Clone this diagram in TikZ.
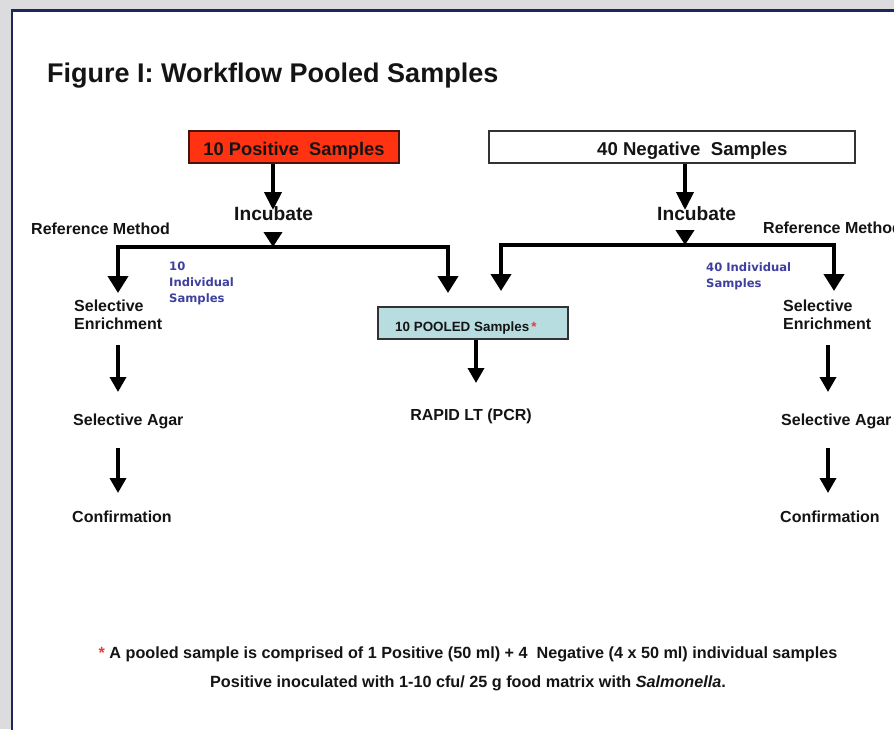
\documentclass[tikz,border=0pt]{standalone}
\usepackage{fontspec}
\setmainfont{Liberation Sans}
\newfontfamily\dejavu{DejaVu Sans}
\usetikzlibrary{arrows.meta}
\definecolor{bggray}{RGB}{220,220,222}
\definecolor{panelnavy}{RGB}{30,38,92}
\definecolor{boxred}{RGB}{255,51,17}
\definecolor{redborder}{RGB}{70,20,10}
\definecolor{boxcyan}{RGB}{184,221,225}
\definecolor{cyanborder}{RGB}{50,50,50}
\definecolor{lblblue}{RGB}{63,63,159}
\definecolor{astred}{RGB}{224,64,58}
\definecolor{txtdark}{RGB}{20,20,20}
\newcommand\setfs[1]{\fontsize{#1}{#1}\selectfont}
\begin{document}
\begin{tikzpicture}[x=1pt,y=-1pt,
  lbl/.style={inner sep=0pt, text=txtdark, font=\bfseries\setfs{16}},
  blue/.style={inner sep=0pt, text=lblblue, align=left, font=\dejavu\bfseries\fontsize{11.6}{16}\selectfont},
  two/.style={inner sep=0pt, text=txtdark, align=left, font=\bfseries\fontsize{16}{18}\selectfont},
  boxshape/.style={inner sep=0pt, line width=1.5pt},
  toparr/.style={line width=4pt, -{Triangle[width=17pt,length=18pt]}},
  headonly/.style={line width=4pt, -{Triangle[width=18pt,length=15pt]}},
  branch/.style={line width=4pt, line join=miter,
    {Triangle[width=20pt,length=17pt]}-{Triangle[width=20pt,length=17pt]}},
  colarr/.style={line width=3.5pt, -{Triangle[width=16pt,length=15pt]}}]
\useasboundingbox (0,0) rectangle (894,729);
\clip (0,0) rectangle (894,729);
\fill[bggray] (0,0) rectangle (894,729);
\fill[white] (12,10.5) rectangle (900,740);
\draw[panelnavy, line width=2.5pt] (12,740) -- (12,10.5) -- (900,10.5);

% title
\node[inner sep=0pt, anchor=base west, font=\bfseries\setfs{27}, text=txtdark] (title) at (47,82) {Figure I: Workflow Pooled Samples};

% top boxes
\node[boxshape, draw=redborder, fill=boxred, minimum width=210pt, minimum height=32pt] (pos) at (294,147) {};
\node[lbl, anchor=base, font=\bfseries\setfs{18.3}] (post) at (294,155) {10 Positive\ \ Samples};
\node[boxshape, draw=black!80, fill=white, minimum width=366pt, minimum height=32pt] (neg) at (672,147) {};
\node[lbl, anchor=base west, font=\bfseries\setfs{18.6}] (negt) at (597,155) {40 Negative\ \ Samples};

% incubate
\node[lbl, anchor=base west, font=\bfseries\setfs{19.2}] (incL) at (234,220) {Incubate};
\node[lbl, anchor=base west, font=\bfseries\setfs{19.2}] (incR) at (657,220) {Incubate};

\node[lbl, anchor=base west] (refL) at (31,234) {Reference Method};
\node[lbl, anchor=base west] (refR) at (763,233) {Reference Method};

% junctions and tips
\coordinate (jl) at (273,247);
\coordinate (jr) at (685,245);
\coordinate (incLtip) at (273,210);
\coordinate (incRtip) at (685,210);
\coordinate (tL1) at (118,293);
\coordinate (tL2) at (448,293);
\coordinate (tR1) at (501,291);
\coordinate (tR2) at (834,291);

\draw[toparr] (pos.south -| jl) -- (incLtip);
\draw[toparr] (neg.south -| jr) -- (incRtip);
\draw[headonly, shorten <=12pt] (incL.south -| jl) -- (jl);
\draw[headonly, shorten <=12pt] (incR.south -| jr) -- (jr);
\draw[branch] (tL1) |- (jl) -| (tL2);
\draw[branch] (tR1) |- (jr) -| (tR2);

% blue labels
\node[blue, anchor=north west] (indL) at (169,262) {10\\Individual\\Samples};
\node[blue, anchor=north west] (indR) at (706,262) {40 Individual\\Samples};

% pooled box
\node[boxshape, draw=cyanborder, fill=boxcyan, minimum width=190pt, minimum height=32pt] (pool) at (473,323) {};
\node[lbl, anchor=base west, font=\bfseries\setfs{13.4}] (poolt) at (395,331) {10 POOLED Samples\,\textcolor{astred}{*}};

% left column
\node[two, anchor=north west] (selL) at (74,300) {Selective\\Enrichment};
\node[lbl, anchor=base west] (agarL) at (73,425) {Selective Agar};
\node[lbl, anchor=base west] (confL) at (72,522) {Confirmation};
% right column
\node[two, anchor=north west] (selR) at (783,300) {Selective\\Enrichment};
\node[lbl, anchor=base west] (agarR) at (781,425) {Selective Agar};
\node[lbl, anchor=base west] (confR) at (780,522) {Confirmation};
% middle
\node[lbl, anchor=base] (rapid) at (471,420) {RAPID LT (PCR)};

\coordinate (cL1a) at (118,345); \coordinate (cL1b) at (118,392);
\coordinate (cL2a) at (118,448); \coordinate (cL2b) at (118,493);
\coordinate (cR1a) at (828,345); \coordinate (cR1b) at (828,392);
\coordinate (cR2a) at (828,448); \coordinate (cR2b) at (828,493);
\coordinate (mtip) at (476,383);
\draw[colarr] (cL1a) -- (cL1b);
\draw[colarr] (cL2a) -- (cL2b);
\draw[colarr] (cR1a) -- (cR1b);
\draw[colarr] (cR2a) -- (cR2b);
\draw[colarr] (pool.south -| mtip) -- (mtip);

% footnote
\node[lbl, anchor=base, font=\bfseries\setfs{16.2}] (foot1) at (468,658) {\textcolor{astred}{*} A pooled sample is comprised of 1 Positive (50 ml) + 4\ \ Negative (4 x 50 ml) individual samples};
\node[lbl, anchor=base, font=\bfseries\setfs{16.2}] (foot2) at (468,687) {Positive inoculated with 1-10 cfu/ 25 g food matrix with \textit{Salmonella}.};
\end{tikzpicture}
\end{document}
